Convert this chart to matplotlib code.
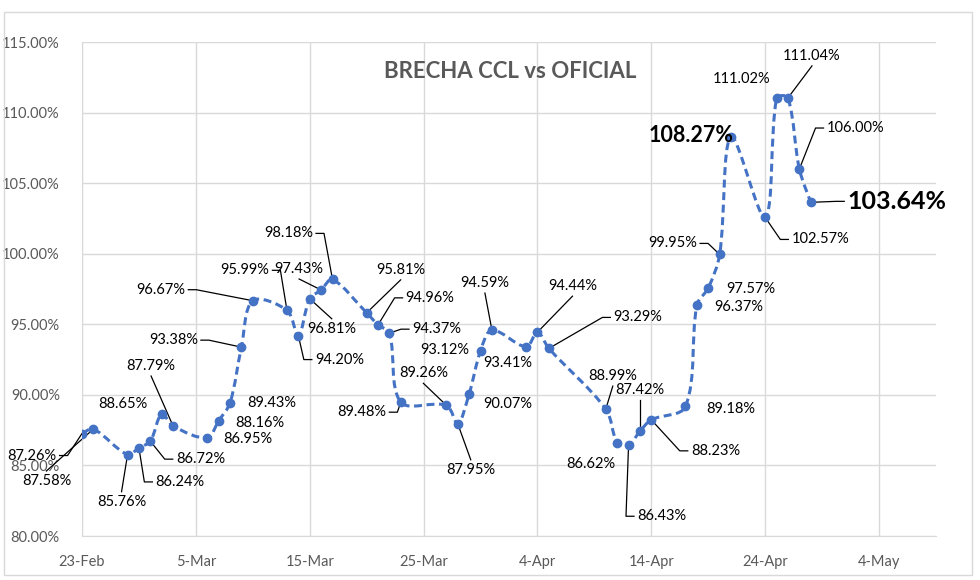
import numpy as np
import matplotlib
matplotlib.use("Agg")
import matplotlib.pyplot as plt
import matplotlib.dates as mdates
from matplotlib.path import Path
from matplotlib.patches import PathPatch, Rectangle
from matplotlib.ticker import FuncFormatter, FixedLocator

# data: brecha CCL vs oficial (business days, 2023)
dates = [
    "2023-02-23", "2023-02-24", "2023-02-27", "2023-02-28", "2023-03-01",
    "2023-03-02", "2023-03-03", "2023-03-06", "2023-03-07", "2023-03-08",
    "2023-03-09", "2023-03-10", "2023-03-13", "2023-03-14", "2023-03-15",
    "2023-03-16", "2023-03-17", "2023-03-20", "2023-03-21", "2023-03-22",
    "2023-03-23", "2023-03-27", "2023-03-28", "2023-03-29", "2023-03-30",
    "2023-03-31", "2023-04-03", "2023-04-04", "2023-04-05", "2023-04-10",
    "2023-04-11", "2023-04-12", "2023-04-13", "2023-04-14", "2023-04-17",
    "2023-04-18", "2023-04-19", "2023-04-20", "2023-04-21", "2023-04-24",
    "2023-04-25", "2023-04-26", "2023-04-27", "2023-04-28",
]
brecha = [
    87.26, 87.58, 85.76, 86.24, 86.72, 88.65, 87.79, 86.95, 88.16, 89.43,
    93.38, 96.67, 95.99, 94.20, 96.81, 97.43, 98.18, 95.81, 94.96, 94.37,
    89.48, 89.26, 87.95, 90.07, 93.12, 94.59, 93.41, 94.44, 93.29, 88.99,
    86.62, 86.43, 87.42, 88.23, 89.18, 96.37, 97.57, 99.95, 108.27, 102.57,
    111.02, 111.04, 106.00, 103.64,
]
title = "BRECHA CCL vs OFICIAL"
x_start, x_end = "2023-02-23", "2023-05-09"
y_ticks = [80, 85, 90, 95, 100, 105, 110, 115]

# label placement: offset of label centre from point (pixels, y down) and leader side
lab_dx = [-50, -47, -6, 41, 50, -39, -22, 41, 41, 42,
          -68, -92, -42, 41, 22, -22, -44, 34, 52, 47,
          -39, -23, 13, 39, -36, -7, -18, 35, 89, 7,
          -26, 33, 0, 64, 45, 42, 43, -47, -40, 55,
          -35, 24, 56, 86]
lab_dy = [22, 52, 47, 34, 18, -10, -60, 1, 2, 0,
          -7, -11, -40, 24, 30, -21, -46, -43, -27, -4,
          10, -32, 46, 10, -1, -47, 16, -46, -31, -33,
          21, 71, -41, 31, 3, 2, 1, -11, -1, 22,
          -19, -42, -41, -1]
lab_side = ["r", "t", "t", "l", "l", "", "b", "", "", "",
            "r", "r", "r", "l", "t", "b", "r", "b", "l", "l",
            "r", "b", "t", "", "", "b", "", "b", "l", "b",
            "", "l", "b", "l", "", "", "", "r", "", "l",
            "", "b", "l", "l"]
big_size = {38: 15.5, 43: 18}

blue = "#4472C4"
grey_txt = "#595959"
grid_c = "#d9d9d9"

plt.rcParams["font.family"] = ["Lato", "DejaVu Sans"]

x = mdates.date2num(np.array(dates, dtype="datetime64[D]"))
y = np.array(brecha)

fig = plt.figure(figsize=(9.8, 5.8), dpi=100)
ax = fig.add_axes([82 / 980, 1 - 536 / 580, (936 - 82) / 980, (536 - 42) / 580])

# chart border
fig.patches.append(Rectangle((4 / 980, 1 - 575 / 580), 968 / 980, 563 / 580,
                             transform=fig.transFigure, fill=False,
                             ec=grid_c, lw=1))

ax.set_xlim(mdates.date2num(np.datetime64(x_start)), mdates.date2num(np.datetime64(x_end)))
ax.set_ylim(80, 115)

# smoothed line, excel style: bezier with tangents scaled by segment lengths (in pixels)
pts = ax.transData.transform(np.column_stack([x, y]))
ext = np.vstack([pts[0], pts, pts[-1]])
verts = [pts[0]]
codes = [Path.MOVETO]
for i in range(len(pts) - 1):
    p0, p1, p2, p3 = ext[i], ext[i + 1], ext[i + 2], ext[i + 3]
    d01 = np.hypot(*(p1 - p0))
    d12 = np.hypot(*(p2 - p1))
    d23 = np.hypot(*(p3 - p2))
    c1 = p1 + (p2 - p0) * d12 / (3 * (d01 + d12)) if d01 > 0 else p1 + (p2 - p0) / 6
    c2 = p2 - (p3 - p1) * d12 / (3 * (d12 + d23)) if d23 > 0 else p2 - (p3 - p1) / 6
    verts += [c1, c2, p2]
    codes += [Path.CURVE4] * 3
verts = ax.transData.inverted().transform(np.array(verts))
ax.add_patch(PathPatch(Path(verts, codes), fill=False, ec=blue, lw=2.2,
                       ls=(0, (2.6, 1.5)), zorder=3, capstyle="butt"))
ax.plot(x, y, "o", color=blue, ms=6, zorder=4)

xt = mdates.date2num(np.datetime64(x_start)) + np.arange(0, 71, 10)
ax.xaxis.set_major_locator(FixedLocator(xt))
ax.xaxis.set_major_formatter(mdates.DateFormatter("%-d-%b"))
ax.set_yticks(y_ticks)
ax.yaxis.set_major_formatter(FuncFormatter(lambda v, p: f"{v:.2f}%"))
ax.tick_params(length=0, labelsize=10.5, labelcolor=grey_txt)
ax.tick_params(axis="y", pad=16)
ax.tick_params(axis="x", pad=14)
ax.grid(True, color=grid_c, lw=1)
ax.set_axisbelow(True)
for s in ["top", "right"]:
    ax.spines[s].set_visible(False)
for s in ["left", "bottom"]:
    ax.spines[s].set_color(grid_c)

fig.text(510 / 980, 1 - 72 / 580, title, ha="center", va="center",
         fontsize=16, fontweight="bold", color=grey_txt)

texts = []
for i in range(len(y)):
    fs = big_size.get(i, 10.5)
    t = ax.annotate(f"{y[i]:.2f}%", (x[i], y[i]), xytext=(lab_dx[i], -lab_dy[i]),
                    textcoords="offset pixels", ha="center", va="center",
                    fontsize=fs, fontweight="bold" if i in big_size else "normal",
                    color="black", annotation_clip=False, zorder=5)
    texts.append(t)

# leader lines, excel style
fig.canvas.draw()
r = fig.canvas.get_renderer()
gap, stub = 3, 8
for i, t in enumerate(texts):
    side = lab_side[i]
    if not side:
        continue
    bb = t.get_window_extent(r)
    px, py = ax.transData.transform((x[i], y[i]))
    ym = (bb.y0 + bb.y1) / 2
    if side == "l":
        v = [(px, py), (bb.x0 - gap - stub, ym), (bb.x0 - gap, ym)]
    elif side == "r":
        v = [(px, py), (bb.x1 + gap + stub, ym), (bb.x1 + gap, ym)]
    elif side == "t":
        v = [(px, py), ((bb.x0 + bb.x1) / 2, bb.y1 + gap)]
    else:
        v = [(px, py), ((bb.x0 + bb.x1) / 2, bb.y0 - gap)]
    d = ax.transData.inverted().transform(v)
    ax.plot(d[:, 0], d[:, 1], color="black", lw=0.9, clip_on=False, zorder=2)

fig.savefig("out.png", dpi=100)
